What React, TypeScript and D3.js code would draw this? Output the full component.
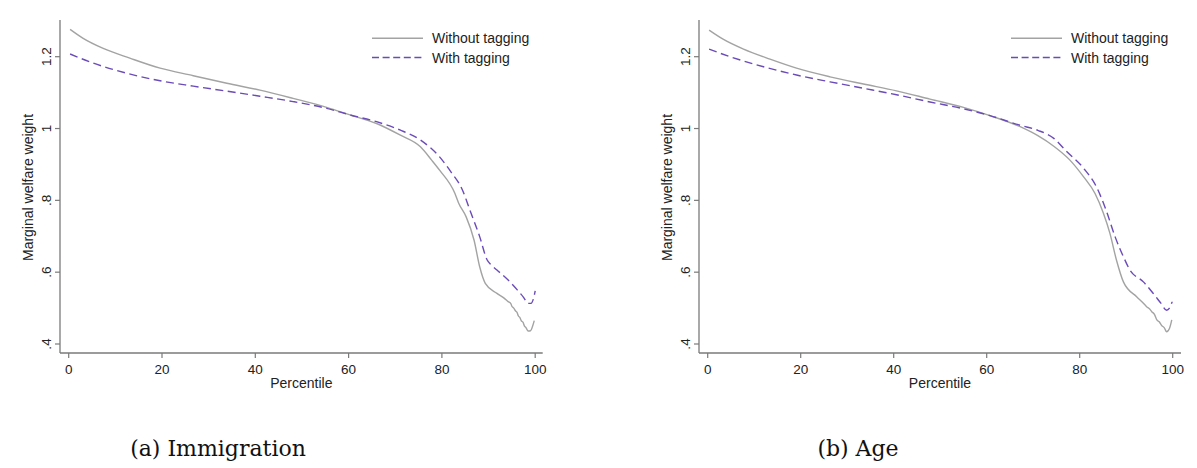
import React from "react";
import * as d3 from "d3";

// ---- Data ----
const yTicks = [0.4, 0.6, 0.8, 1.0, 1.2];
const yTickLabels = [".4", ".6", ".8", "1", "1.2"];
const xTicks = [0, 20, 40, 60, 80, 100];
const seriesNames = ["Without tagging", "With tagging"];
const captions = ["(a) Immigration", "(b) Age"];

const immWithoutP = [0.3, 3.1, 7.4, 13.1, 19.6, 26.7, 33.9, 41, 48.1, 55.3, 60.3, 66, 71, 75.4, 77.8, 79.5, 82.8, 83.6, 85.2, 86.9, 88.1, 89.3, 91.8, 93.4, 94.2, 94.8, 95.0, 95.4, 95.8, 96.1, 96.4, 96.7, 97.0, 97.4, 97.7, 98.0, 98.5, 99.0, 99.4, 99.8];
const immWithoutV = [1.276, 1.251, 1.223, 1.196, 1.168, 1.147, 1.126, 1.107, 1.084, 1.059, 1.038, 1.014, 0.982, 0.949, 0.912, 0.884, 0.819, 0.792, 0.754, 0.689, 0.615, 0.569, 0.541, 0.527, 0.518, 0.512, 0.505, 0.5, 0.492, 0.488, 0.478, 0.474, 0.465, 0.46, 0.45, 0.446, 0.436, 0.437, 0.448, 0.465];
const immWithP = [0.3, 5.3, 12.4, 19.6, 26.7, 33.9, 41, 48.1, 55.3, 60.3, 66, 71, 75.4, 79.5, 81.9, 84.4, 86, 88.1, 89.7, 90.6, 91.8, 94.2, 96.2, 97.5, 98.5, 99.1, 99.7, 100];
const immWithV = [1.2075, 1.182, 1.154, 1.133, 1.118, 1.104, 1.09, 1.075, 1.056, 1.038, 1.019, 0.996, 0.968, 0.921, 0.88, 0.829, 0.773, 0.699, 0.634, 0.62, 0.606, 0.578, 0.55, 0.53, 0.513, 0.513, 0.53, 0.548];

const ageWithoutP = [0.3, 3.4, 7.7, 13.4, 19.1, 26.3, 33.5, 40.6, 47.8, 55, 60.7, 67.2, 71, 74.5, 77.9, 80.8, 83.3, 85.1, 86.5, 87.9, 89.4, 92.3, 93.6, 94.4, 95.0, 95.5, 96.1, 96.6, 97.1, 97.6, 98.2, 98.7, 99.3, 99.8];
const ageWithoutV = [1.274, 1.248, 1.221, 1.193, 1.168, 1.144, 1.124, 1.105, 1.082, 1.059, 1.036, 1.005, 0.98, 0.95, 0.912, 0.866, 0.819, 0.764, 0.708, 0.634, 0.573, 0.531, 0.515, 0.504, 0.498, 0.49, 0.482, 0.467, 0.462, 0.452, 0.445, 0.434, 0.443, 0.467];
const ageWithP = [0.3, 4.8, 12, 19.1, 26.3, 33.5, 40.6, 47.8, 55, 60.7, 67.2, 71, 74.5, 77.2, 80.8, 83.7, 85.8, 87.6, 89.4, 90.8, 93.7, 95.8, 97.5, 98.7, 99.3, 99.9];
const ageWithV = [1.221, 1.2, 1.172, 1.149, 1.13, 1.112, 1.094, 1.074, 1.055, 1.036, 1.009, 0.995, 0.972, 0.936, 0.89, 0.835, 0.768, 0.699, 0.643, 0.606, 0.573, 0.541, 0.513, 0.494, 0.5, 0.518];

const GRAY = "#a3a3a3";
const PURPLE = "#6a4bb8";
const AXIS = "#7a7a7a";
const FONT = "'Liberation Sans', Arial, sans-serif";

type PanelProps = {
  ox: number;
  xr: [number, number];
  axisEnd: number;
  legendX: number;
  withoutP: number[];
  withoutV: number[];
  withP: number[];
  withV: number[];
  caption: string;
  captionX: number;
};

function Panel(props: PanelProps) {
  const { ox, xr, axisEnd, legendX, withoutP, withoutV, withP, withV, caption, captionX } = props;
  const x = d3.scaleLinear().domain([0, 100]).range(xr);
  const y = d3.scaleLinear().domain([0.4, 1.2]).range([344, 56.7]);
  const line = d3
    .line<[number, number]>()
    .x((d) => x(d[0]))
    .y((d) => y(d[1]))
    .curve(d3.curveMonotoneX);
  const wo = withoutP.map((p, i) => [p, withoutV[i]] as [number, number]);
  const wi = withP.map((p, i) => [p, withV[i]] as [number, number]);
  const axisY = 353;
  return (
    <g>
      {/* y axis */}
      <line x1={ox} x2={ox} y1={20} y2={axisY} stroke={AXIS} strokeWidth={1.3} />
      {yTicks.map((t, i) => (
        <g key={"y" + i}>
          <line x1={ox - 5} x2={ox} y1={y(t)} y2={y(t)} stroke={AXIS} strokeWidth={1.2} />
          <text
            transform={`translate(${ox - 9.5},${y(t)}) rotate(-90)`}
            textAnchor="middle"
            fontFamily={FONT}
            fontSize={13.5}
            fill="#222"
          >
            {yTickLabels[i]}
          </text>
        </g>
      ))}
      <text
        transform={`translate(${ox - 27},187.5) rotate(-90)`}
        textAnchor="middle"
        fontFamily={FONT}
        fontSize={14}
        fill="#222"
      >
        Marginal welfare weight
      </text>
      {/* x axis */}
      <line x1={ox} x2={axisEnd} y1={axisY} y2={axisY} stroke={AXIS} strokeWidth={1.3} />
      {xTicks.map((t, i) => (
        <g key={"x" + i}>
          <line x1={x(t)} x2={x(t)} y1={axisY} y2={axisY + 5} stroke={AXIS} strokeWidth={1.2} />
          <text x={x(t)} y={374} textAnchor="middle" fontFamily={FONT} fontSize={13.5} fill="#222">
            {t}
          </text>
        </g>
      ))}
      <text x={(ox + axisEnd) / 2} y={388} textAnchor="middle" fontFamily={FONT} fontSize={14} fill="#222">
        Percentile
      </text>
      {/* series */}
      <path d={line(wo) || ""} fill="none" stroke={GRAY} strokeWidth={1.4} />
      <path d={line(wi) || ""} fill="none" stroke={PURPLE} strokeWidth={1.4} strokeDasharray="8,4.5" />
      {/* legend */}
      <line x1={legendX} x2={legendX + 51} y1={38.3} y2={38.3} stroke={GRAY} strokeWidth={1.4} />
      <text x={legendX + 60} y={43.3} fontFamily={FONT} fontSize={14} fill="#222">
        {seriesNames[0]}
      </text>
      <line x1={legendX} x2={legendX + 51} y1={57.5} y2={57.5} stroke={PURPLE} strokeWidth={1.4} strokeDasharray="7,3.6" />
      <text x={legendX + 60} y={62.5} fontFamily={FONT} fontSize={14} fill="#222">
        {seriesNames[1]}
      </text>
      {/* caption */}
      <text x={captionX} y={456} textAnchor="middle" fontFamily="'DejaVu Serif', serif" fontSize={22} fill="#111">
        {caption}
      </text>
    </g>
  );
}

export default function App() {
  return (
    <svg
      width={1197}
      height={468}
      style={{ position: "absolute", left: 0, top: 0, background: "#fff" }}
    >
      <rect width={1197} height={468} fill="#fff" />
      <Panel
        ox={60}
        xr={[68.7, 535.2]}
        axisEnd={542.7}
        legendX={372}
        withoutP={immWithoutP}
        withoutV={immWithoutV}
        withP={immWithP}
        withV={immWithV}
        caption={captions[0]}
        captionX={218}
      />
      <Panel
        ox={699}
        xr={[707.7, 1172.7]}
        axisEnd={1181}
        legendX={1011}
        withoutP={ageWithoutP}
        withoutV={ageWithoutV}
        withP={ageWithP}
        withV={ageWithV}
        caption={captions[1]}
        captionX={858}
      />
    </svg>
  );
}
